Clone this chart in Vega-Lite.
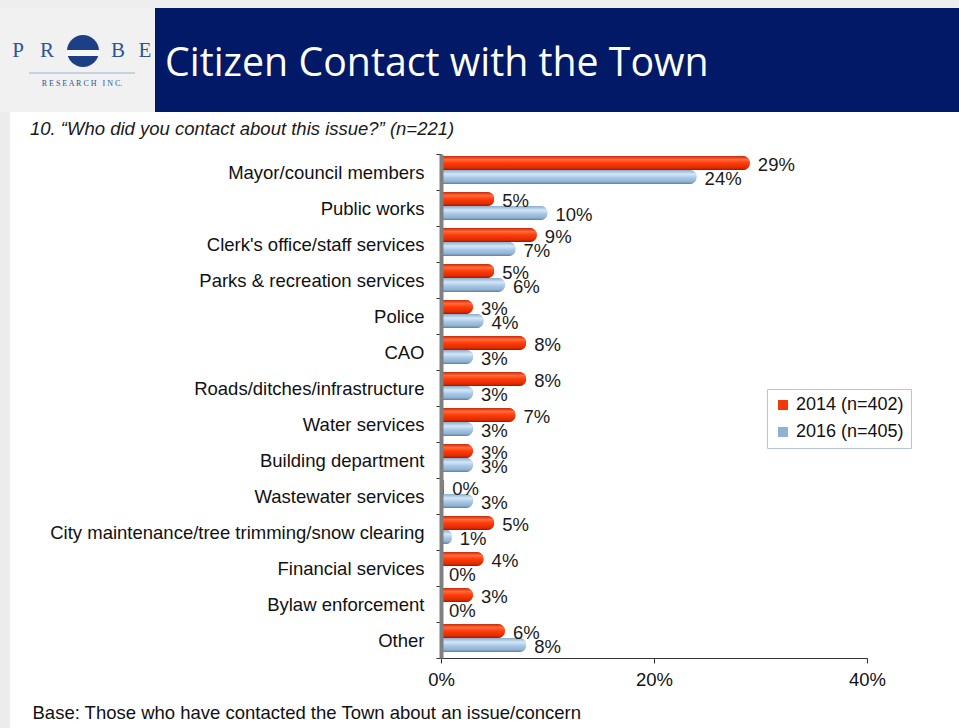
{
  "$schema": "https://vega.github.io/schema/vega-lite/v6.json",
  "background": "white",
  "padding": 0,
  "spacing": 0,
  "resolve": {"legend": {"color": "independent"}, "scale": {"color": "independent"}},
  "config": {"font": "Liberation Sans", "view": {"stroke": null}, "axis": {"grid": false}},
  "vconcat": [
    {
      "width": 518,
      "height": 112,
      "view": {"stroke": null},
      "layer": [
        {"data": {"values": [{"k": "a"}]}, "mark": {"type": "point", "opacity": 0}, "encoding": {"y": {"field": "k", "type": "nominal", "axis": {"title": null, "labels": false, "ticks": false, "domain": false, "minExtent": 441, "maxExtent": 441}}}},
        {"data": {"values": [{}]}, "mark": {"type": "rect", "color": "#eeeeee"}, "encoding": {"x": {"value": -441}, "x2": {"value": 518}, "y": {"value": 0}, "y2": {"value": 8}}},
        {"data": {"values": [{}]}, "mark": {"type": "rect", "color": "#f1f1f1"}, "encoding": {"x": {"value": -441}, "x2": {"value": -286}, "y": {"value": 8}, "y2": {"value": 112}}},
        {"data": {"values": [{}]}, "mark": {"type": "rect", "color": "#011966"}, "encoding": {"x": {"value": -286}, "x2": {"value": 518}, "y": {"value": 8}, "y2": {"value": 112}}},
        {"data": {"values": [{}]}, "mark": {"type": "point", "shape": "circle", "filled": true, "color": "#1d3f86", "size": 1024, "opacity": 1}, "encoding": {"x": {"value": -358}, "y": {"value": 51}}},
        {"data": {"values": [{}]}, "mark": {"type": "rule", "color": "#f6f6f6", "strokeWidth": 6}, "encoding": {"x": {"value": -375}, "x2": {"value": -341}, "y": {"value": 53}}},
        {"data": {"values": [{}]}, "mark": {"type": "text", "text": "P", "font": "Liberation Serif", "fontSize": 21, "color": "#2c5597", "align": "center", "baseline": "middle"}, "encoding": {"x": {"value": -423}, "y": {"value": 51}}},
        {"data": {"values": [{}]}, "mark": {"type": "text", "text": "R", "font": "Liberation Serif", "fontSize": 21, "color": "#2c5597", "align": "center", "baseline": "middle"}, "encoding": {"x": {"value": -394}, "y": {"value": 51}}},
        {"data": {"values": [{}]}, "mark": {"type": "text", "text": "B", "font": "Liberation Serif", "fontSize": 21, "color": "#2c5597", "align": "center", "baseline": "middle"}, "encoding": {"x": {"value": -323}, "y": {"value": 51}}},
        {"data": {"values": [{}]}, "mark": {"type": "text", "text": "E", "font": "Liberation Serif", "fontSize": 21, "color": "#2c5597", "align": "center", "baseline": "middle"}, "encoding": {"x": {"value": -296}, "y": {"value": 51}}},
        {"data": {"values": [{}]}, "mark": {"type": "rule", "color": "#9ab0d0", "strokeWidth": 1}, "encoding": {"x": {"value": -412}, "x2": {"value": -306}, "y": {"value": 73}}},
        {"data": {"values": [{}]}, "mark": {"type": "text", "text": "R E S E A R C H \u00a0 I N C.", "font": "Liberation Serif", "fontSize": 8, "color": "#2c5597", "align": "center", "baseline": "middle"}, "encoding": {"x": {"value": -359}, "y": {"value": 84}}},
        {"data": {"values": [{}]}, "mark": {"type": "text", "text": "Citizen Contact with the Town", "font": "Open Sans", "fontSize": 39.3, "color": "white", "align": "left", "baseline": "alphabetic"}, "encoding": {"x": {"value": -276}, "y": {"value": 76}}}
      ]
    },
    {
      "width": 426,
      "height": 504,
      "title": {"text": "10. “Who did you contact about this issue?”  (n=221)", "anchor": "start", "frame": "bounds", "fontSize": 18.5, "fontStyle": "italic", "fontWeight": "normal", "color": "#1a1a1a", "dx": 30, "offset": -26},
      "layer": [
        {
          "data": {"values": [{}]},
          "mark": {"type": "rect", "color": "#ececec"},
          "encoding": {"x": {"value": -441}, "x2": {"value": -431}, "y": {"value": -42}, "y2": {"value": 575}}
        },
        {
          "data": {
            "values": [
              {"category": "Mayor/council members", "year": "2014 (n=402)", "pct": 0.29},
              {"category": "Mayor/council members", "year": "2016 (n=405)", "pct": 0.24},
              {"category": "Public works", "year": "2014 (n=402)", "pct": 0.05},
              {"category": "Public works", "year": "2016 (n=405)", "pct": 0.10},
              {"category": "Clerk's office/staff services", "year": "2014 (n=402)", "pct": 0.09},
              {"category": "Clerk's office/staff services", "year": "2016 (n=405)", "pct": 0.07},
              {"category": "Parks & recreation services", "year": "2014 (n=402)", "pct": 0.05},
              {"category": "Parks & recreation services", "year": "2016 (n=405)", "pct": 0.06},
              {"category": "Police", "year": "2014 (n=402)", "pct": 0.03},
              {"category": "Police", "year": "2016 (n=405)", "pct": 0.04},
              {"category": "CAO", "year": "2014 (n=402)", "pct": 0.08},
              {"category": "CAO", "year": "2016 (n=405)", "pct": 0.03},
              {"category": "Roads/ditches/infrastructure", "year": "2014 (n=402)", "pct": 0.08},
              {"category": "Roads/ditches/infrastructure", "year": "2016 (n=405)", "pct": 0.03},
              {"category": "Water services", "year": "2014 (n=402)", "pct": 0.07},
              {"category": "Water services", "year": "2016 (n=405)", "pct": 0.03},
              {"category": "Building department", "year": "2014 (n=402)", "pct": 0.03},
              {"category": "Building department", "year": "2016 (n=405)", "pct": 0.03},
              {"category": "Wastewater services", "year": "2014 (n=402)", "pct": 0.003},
              {"category": "Wastewater services", "year": "2016 (n=405)", "pct": 0.03},
              {"category": "City maintenance/tree trimming/snow clearing", "year": "2014 (n=402)", "pct": 0.05},
              {"category": "City maintenance/tree trimming/snow clearing", "year": "2016 (n=405)", "pct": 0.01},
              {"category": "Financial services", "year": "2014 (n=402)", "pct": 0.04},
              {"category": "Financial services", "year": "2016 (n=405)", "pct": 0.0},
              {"category": "Bylaw enforcement", "year": "2014 (n=402)", "pct": 0.03},
              {"category": "Bylaw enforcement", "year": "2016 (n=405)", "pct": 0.0},
              {"category": "Other", "year": "2014 (n=402)", "pct": 0.06},
              {"category": "Other", "year": "2016 (n=405)", "pct": 0.08}
            ]
          },
          "encoding": {
            "y": {
              "field": "category", "type": "nominal",
              "sort": ["Mayor/council members", "Public works", "Clerk's office/staff services", "Parks & recreation services", "Police", "CAO", "Roads/ditches/infrastructure", "Water services", "Building department", "Wastewater services", "City maintenance/tree trimming/snow clearing", "Financial services", "Bylaw enforcement", "Other"],
              "scale": {"paddingInner": 0, "paddingOuter": 0},
              "axis": {"title": null, "tickBand": "extent", "domainColor": "#808080", "domainWidth": 4, "tickColor": "#333333", "tickSize": 5, "labelFontSize": 18.5, "labelColor": "#111111", "labelPadding": 12, "labelLimit": 500, "minExtent": 441, "maxExtent": 441, "zindex": 1}
            },
            "yOffset": {"field": "year", "type": "nominal", "sort": ["2014 (n=402)", "2016 (n=405)"], "scale": {"paddingInner": 0, "paddingOuter": 0.29, "align": 0.25}},
            "x": {
              "field": "pct", "type": "quantitative",
              "scale": {"domain": [0, 0.4]},
              "axis": {"format": ".0%", "values": [0, 0.2, 0.4], "labelFlush": false, "domainColor": "#333333", "tickColor": "#333333", "tickSize": 5, "labelFontSize": 18.5, "labelColor": "#111111", "labelPadding": 7, "title": "Base: Those who have contacted the Town about an issue/concern", "titleFontSize": 18.5, "titleFontWeight": "normal", "titleColor": "#111111", "titleAnchor": "start", "titleAlign": "left", "titleX": -409, "titleY": 54, "titleBaseline": "middle"}
            }
          },
          "layer": [
            {
              "mark": {"type": "bar", "cornerRadiusEnd": 7},
              "encoding": {
                "color": {
                  "field": "year", "type": "nominal",
                  "scale": {"domain": ["2014 (n=402)", "2016 (n=405)"], "range": ["#f2380a", "#8fb1d2"]},
                  "legend": {"title": null, "orient": "none", "legendX": 326, "legendY": 235, "strokeColor": "#b4c6de", "fillColor": "white", "padding": 7, "symbolType": "square", "symbolSize": 100, "labelFontSize": 18, "labelColor": "#111111", "labelOffset": 4, "rowPadding": 9, "symbolStrokeWidth": 0}
                }
              }
            },
            {
              "mark": {"type": "bar", "cornerRadiusEnd": 7},
              "encoding": {
                "fill": {
                  "condition": {
                    "test": "datum.year == '2014 (n=402)'",
                    "value": {"gradient": "linear", "x1": 0, "y1": 0, "x2": 0, "y2": 1, "stops": [{"offset": 0, "color": "#c42a08"}, {"offset": 0.25, "color": "#ff6a3a"}, {"offset": 0.5, "color": "#ff3d0a"}, {"offset": 0.85, "color": "#e02a00"}, {"offset": 1, "color": "#a01800"}]}
                  },
                  "value": {"gradient": "linear", "x1": 0, "y1": 0, "x2": 0, "y2": 1, "stops": [{"offset": 0, "color": "#8aaccb"}, {"offset": 0.3, "color": "#d4e8f8"}, {"offset": 0.55, "color": "#a9c9e8"}, {"offset": 0.85, "color": "#8fb0d0"}, {"offset": 1, "color": "#5f7f9f"}]}
                }
              }
            },
            {
              "mark": {"type": "text", "align": "left", "baseline": "middle", "dx": 8, "dy": 2, "fontSize": 18.5, "color": "#1a1a1a"},
              "encoding": {"text": {"field": "pct", "type": "quantitative", "format": ".0%"}}
            }
          ]
        }
      ]
    }
  ]
}
